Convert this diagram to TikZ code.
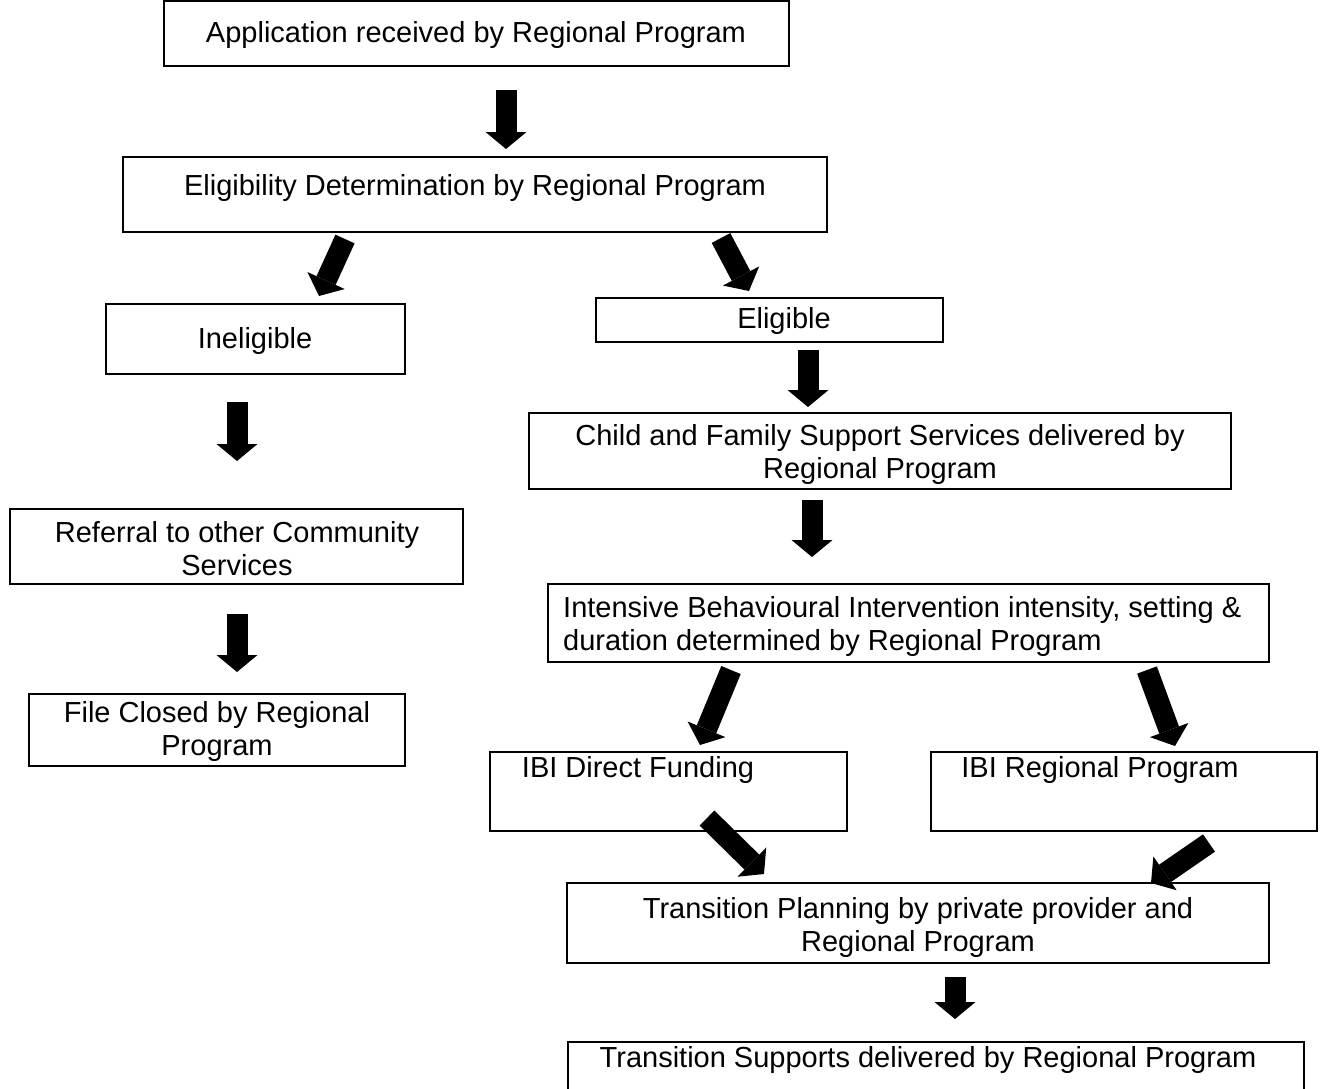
\documentclass[tikz,border=0pt]{standalone}
\usepackage{fontspec}
\setmainfont{Liberation Sans}
\usetikzlibrary{arrows.meta}
\begin{document}
\begin{tikzpicture}[x=1pt,y=-1pt,
  box/.style={draw=black, line width=2pt, inner sep=0pt, outer sep=0pt, fill=none},
  txt/.style={inner sep=0pt, font=\fontsize{29}{33}\selectfont, align=center},
  blk/.style={line width=21pt, line cap=butt, -{Triangle[width=41pt,length=17pt,line width=0pt]}}]
\useasboundingbox (0,0) rectangle (1332,1088);
\begin{scope}
\clip (0,0) rectangle (1332,1088);
% boxes
\node[box, minimum width=625pt, minimum height=65pt] (app) at (476.5,33.5) {};
\node[box, minimum width=704pt, minimum height=75pt] (elig) at (475,194.5) {};
\node[box, minimum width=299pt, minimum height=70pt] (inel) at (255.5,339) {};
\node[box, minimum width=347pt, minimum height=44pt] (eligible) at (769.5,320) {};
\node[box, minimum width=702pt, minimum height=76pt] (child) at (880,451) {};
\node[box, minimum width=453pt, minimum height=75pt] (ref) at (236.5,546.5) {};
\node[box, minimum width=721pt, minimum height=78pt] (ibi) at (908.5,623) {};
\node[box, minimum width=376pt, minimum height=72pt] (file) at (217,730) {};
\node[box, minimum width=357pt, minimum height=79pt] (dir) at (668.5,791.5) {};
\node[box, minimum width=386pt, minimum height=79pt] (reg) at (1124,791.5) {};
\node[box, minimum width=702pt, minimum height=80pt] (tp) at (918,923) {};
\node[box, minimum width=736pt, minimum height=70pt] (ts) at (936,1077) {};
\end{scope}
% texts
\node[txt] (appt) at (476,35) {Application received by Regional Program};
\node[txt] (eligt) at (475,188) {Eligibility Determination by Regional Program};
\node[txt] (inelt) at (255,341) {Ineligible};
\node[txt] (eligiblet) at (784,321) {Eligible};
\node[txt] (childt) at (880,454) {Child and Family Support Services delivered by\\Regional Program};
\node[txt] (reft) at (237,549) {Referral to other Community\\Services};
\node[txt, align=left, anchor=west] (ibit) at (563,626) {Intensive Behavioural Intervention intensity, setting \&\\duration determined by Regional Program};
\node[txt] (filet) at (217,731) {File Closed by Regional\\Program};
\node[txt] (dirt) at (638,770) {IBI Direct Funding};
\node[txt] (regt) at (1100,770) {IBI Regional Program};
\node[txt] (tpt) at (918,927) {Transition Planning by private provider and\\Regional Program};
\node[txt] (tst) at (928,1060) {Transition Supports delivered by Regional Program};
% arrow end points
\coordinate (a1s) at (506,90);   \coordinate (a1e) at (506,149);
\coordinate (a2s) at (345,239);  \coordinate (a2e) at (319,296);
\coordinate (a3s) at (721,238);  \coordinate (a3e) at (749,291);
\coordinate (a4s) at (808,350);  \coordinate (a4e) at (808,407);
\coordinate (a5s) at (237,402);  \coordinate (a5e) at (237,461);
\coordinate (a6s) at (812,500);  \coordinate (a6e) at (812,557);
\coordinate (a7s) at (237,614);  \coordinate (a7e) at (237,672);
\coordinate (a8s) at (731,670);  \coordinate (a8e) at (700,745);
\coordinate (a9s) at (1147,670); \coordinate (a9e) at (1175,746);
\coordinate (a10s) at (707,818); \coordinate (a10e) at (764,874);
\coordinate (a11s) at (1209,843); \coordinate (a11e) at (1151,883);
\coordinate (a12s) at (955,977); \coordinate (a12e) at (955,1019);
\draw[blk] (a1s) -- (a1e);
\draw[blk] (a2s) -- (a2e);
\draw[blk] (a3s) -- (a3e);
\draw[blk] (a4s) -- (a4e);
\draw[blk] (a5s) -- (a5e);
\draw[blk] (a6s) -- (a6e);
\draw[blk] (a7s) -- (a7e);
\draw[blk] (a8s) -- (a8e);
\draw[blk] (a9s) -- (a9e);
\draw[blk] (a10s) -- (a10e);
\draw[blk] (a11s) -- (a11e);
\draw[blk] (a12s) -- (a12e);
\end{tikzpicture}
\end{document}
